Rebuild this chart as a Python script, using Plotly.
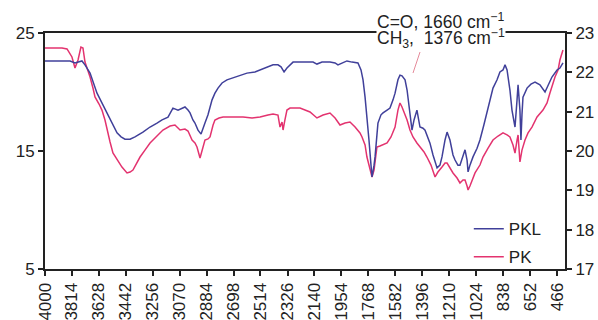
import plotly.graph_objects as go

# PKL (right axis, 17-23)
pkl_wn = [4000, 3931, 3862, 3827, 3793, 3772, 3745, 3724, 3689, 3641, 3607, 3572, 3538, 3503, 3475,
          3448, 3413, 3379, 3324, 3275, 3227, 3192, 3151, 3117, 3082, 3061, 3034, 3013, 2999, 2979,
          2965, 2944, 2923, 2896, 2875, 2847, 2827, 2806, 2778, 2744, 2702, 2654, 2606, 2551, 2516,
          2468, 2426, 2392, 2371, 2350, 2330, 2288, 2240, 2150, 2123, 2088, 2033, 1998, 1978, 1950,
          1916, 1881, 1840, 1819, 1805, 1791, 1778, 1764, 1750, 1743, 1729, 1722, 1709, 1702, 1681,
          1667, 1639, 1619, 1598, 1584, 1564, 1550, 1536, 1515, 1501, 1495, 1481, 1467, 1453, 1433,
          1412, 1391, 1377, 1357, 1343, 1322, 1294, 1274, 1260, 1239, 1225, 1205, 1184, 1170, 1150,
          1136, 1115, 1101, 1087, 1080, 1067, 1046, 1018, 998, 971, 949, 929, 908, 880, 860,
          839, 825, 811, 804, 791, 777, 756, 742, 735, 722, 715, 708, 701, 673, 646,
          618, 584, 549, 528, 501, 466, 446, 425]
pkl_val = [22.29, 22.29, 22.29, 22.29, 22.24, 22.26, 22.29, 22.19, 21.98, 21.47, 21.22, 20.97, 20.69, 20.46, 20.36,
           20.30, 20.30, 20.36, 20.48, 20.61, 20.71, 20.79, 20.86, 21.09, 21.04, 21.07, 21.12, 21.04, 20.97, 20.79,
           20.71, 20.53, 20.43, 20.71, 20.92, 21.30, 21.47, 21.60, 21.73, 21.81, 21.86, 21.91, 21.98, 22.01, 22.06,
           22.11, 22.19, 22.19, 22.14, 22.01, 22.11, 22.26, 22.26, 22.26, 22.21, 22.26, 22.26, 22.24, 22.19, 22.24,
           22.29, 22.26, 22.24, 22.06, 21.81, 21.37, 20.92, 20.28, 19.64, 19.34, 19.64, 19.85, 20.41, 20.71, 20.92,
           20.97, 21.04, 21.09, 21.30, 21.47, 21.81, 21.93, 21.91, 21.81, 21.55, 21.37, 21.04, 20.53, 20.79, 21.04,
           20.61, 20.58, 20.53, 20.36, 20.20, 19.90, 19.57, 19.64, 19.85, 20.28, 20.48, 20.28, 19.90, 19.77, 19.64,
           19.64, 19.90, 20.03, 19.77, 19.47, 19.64, 19.85, 20.07, 20.28, 20.66, 20.97, 21.30, 21.60, 21.81, 22.01,
           22.06, 22.19, 22.06, 21.88, 21.55, 21.04, 20.61, 21.30, 21.68, 21.04, 20.28, 20.92, 21.37, 21.60, 21.70,
           21.75, 21.68, 21.50, 21.68, 21.88, 22.06, 22.11, 22.24]

# PK (left axis, 5-25)
pk_wn = [4000, 3931, 3883, 3848, 3814, 3793, 3772, 3752, 3738, 3724, 3703, 3689, 3669, 3655, 3627,
         3607, 3586, 3572, 3551, 3531, 3503, 3469, 3434, 3413, 3393, 3365, 3344, 3310, 3275, 3234,
         3186, 3137, 3103, 3068, 3034, 3013, 2985, 2965, 2951, 2930, 2916, 2896, 2875, 2861, 2840,
         2827, 2799, 2771, 2702, 2633, 2571, 2516, 2461, 2426, 2392, 2385, 2378, 2364, 2357, 2344,
         2330, 2309, 2240, 2171, 2123, 2081, 2033, 1998, 1964, 1929, 1895, 1860, 1826, 1812, 1791,
         1778, 1757, 1743, 1729, 1709, 1688, 1639, 1612, 1584, 1564, 1550, 1536, 1515, 1501, 1481,
         1460, 1433, 1412, 1384, 1364, 1336, 1308, 1288, 1260, 1239, 1225, 1205, 1184, 1156, 1136,
         1115, 1101, 1087, 1080, 1067, 1053, 1032, 998, 977, 942, 908, 873, 839, 811, 791,
         770, 756, 742, 735, 722, 708, 687, 666, 639, 604, 563, 535, 515, 480, 459,
         446, 425]
pk_val = [23.73, 23.73, 23.73, 23.65, 22.97, 22.03, 22.71, 23.81, 23.73, 22.54, 21.86, 21.27, 20.34, 19.58, 18.98,
          18.47, 17.63, 16.78, 15.76, 14.83, 14.24, 13.64, 13.14, 13.22, 13.39, 13.98, 14.49, 15.08, 15.68, 16.19,
          16.78, 17.12, 17.20, 16.78, 16.86, 16.69, 15.93, 15.68, 15.34, 14.41, 15.08, 15.93, 16.02, 16.19, 17.20,
          17.63, 17.80, 17.88, 17.88, 17.88, 17.80, 17.88, 18.05, 18.14, 18.05, 17.46, 17.03, 17.46, 16.78, 17.63,
          18.47, 18.64, 18.64, 18.31, 17.80, 18.05, 18.22, 17.80, 17.20, 17.37, 17.46, 17.03, 16.53, 16.19, 15.51,
          14.49, 13.39, 12.80, 13.39, 15.34, 15.42, 15.68, 16.19, 17.03, 18.47, 19.07, 18.73, 18.05, 17.63, 16.78,
          16.19, 15.68, 15.34, 14.92, 14.49, 13.81, 12.80, 13.22, 13.64, 13.98, 13.98, 13.56, 13.14, 12.71, 12.29,
          12.54, 12.54, 12.03, 11.70, 12.03, 12.54, 13.14, 13.81, 14.49, 15.25, 15.93, 16.27, 16.53, 16.36, 16.19,
          15.51, 14.83, 15.93, 16.36, 14.07, 15.08, 15.93, 16.53, 17.03, 17.88, 18.47, 19.07, 19.91, 21.27, 21.86,
          22.71, 23.56]

x_ticks = [4000, 3814, 3628, 3442, 3256, 3070, 2884, 2698, 2514, 2326, 2140, 1954, 1768, 1582, 1396,
           1210, 1024, 838, 652, 466]
left_ticks = [5, 15, 25]
right_ticks = [17, 18, 19, 20, 21, 22, 23]

BLUE = "#40409a"
PINK = "#e3336f"
FONT = "Liberation Sans, Arial, sans-serif"

fig = go.Figure()
fig.add_trace(go.Scatter(x=pkl_wn, y=pkl_val, name="PKL", mode="lines", legendgroup="a",
                         line=dict(color=BLUE, width=1.5), yaxis="y2"))
fig.add_trace(go.Scatter(x=pk_wn, y=pk_val, name="PK", mode="lines", legendgroup="b",
                         line=dict(color=PINK, width=1.5), yaxis="y"))

axis_common = dict(showline=True, linecolor="#222", linewidth=2, showgrid=False, automargin=False,
                   zeroline=False, ticks="outside", ticklen=5, tickcolor="#222", tickwidth=1.5)

fig.update_layout(
    width=598, height=320,
    margin=dict(l=45, r=33, t=33, b=51),
    paper_bgcolor="white", plot_bgcolor="white",
    font=dict(family=FONT, color="#222"),
    showlegend=True,
    legend=dict(x=0.815, y=0.245, xanchor="left", yanchor="top", traceorder="grouped",
                bgcolor="rgba(0,0,0,0)", font=dict(size=17), tracegroupgap=3),
    xaxis=dict(range=[4000, 411], tickvals=x_ticks, ticktext=[str(v) for v in x_ticks],
               tickangle=-90, tickfont=dict(size=17), mirror=True, **axis_common),
    yaxis=dict(range=[5, 25], tickvals=left_ticks, tickfont=dict(size=17), **axis_common),
    yaxis2=dict(range=[17, 23], tickvals=right_ticks, overlaying="y", side="right",
                tickfont=dict(size=17), **axis_common),
)

# second line first (white box hides the frame line), first line drawn on top
fig.add_annotation(xref="paper", yref="paper", x=0.6365, y=0.9746, xanchor="left", yanchor="middle",
                   text="CH<sub>3</sub>,  1376 cm<sup>−1</sup>", showarrow=False, bgcolor="white",
                   borderpad=0, font=dict(size=17.5, family=FONT, color="#222"))
fig.add_annotation(xref="paper", yref="paper", x=0.6365, y=1.05, xanchor="left", yanchor="middle",
                   text="C=O, 1660 cm<sup>−1</sup>", showarrow=False,
                   borderpad=0, font=dict(size=17.5, family=FONT, color="#222"))
fig.add_shape(type="line", xref="paper", yref="paper", x0=0.7212, y0=0.9195, x1=0.7077, y1=0.8305,
              line=dict(color="#e58a9a", width=1))

fig.write_html("out.html")
